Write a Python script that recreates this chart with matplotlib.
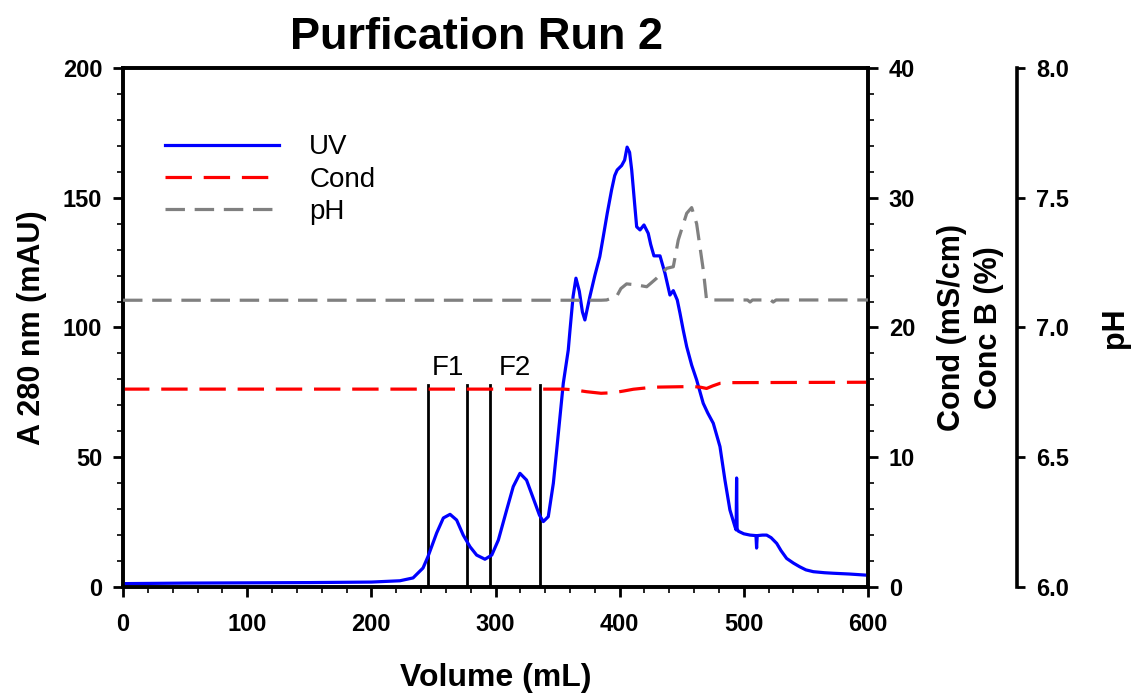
import matplotlib
matplotlib.use("Agg")
import matplotlib.pyplot as plt
from matplotlib.ticker import MultipleLocator, FixedLocator

plt.rcParams['font.family'] = ['Liberation Sans', 'DejaVu Sans']
plt.rcParams['lines.scale_dashes'] = False

# UV absorbance trace (mL, mAU)
uv_volume = [0, 50, 100, 150, 200, 223, 233.6, 241.6, 245.6, 252.6, 258, 263.4, 268.7, 274,
             279.5, 284.8, 291.5, 297, 302.3, 309, 314.3, 319.7, 325, 330.4, 335.4, 338.5,
             342.5, 346.6, 349.3, 354.6, 358.6, 360, 362.5, 364.8, 367.5, 370, 372, 376, 380,
             384, 386.8, 390, 393.5, 396, 398, 401.6, 404, 406, 408, 409.7, 412, 413.7, 416.4,
             419.6, 423, 425, 427.6, 432.5, 436.5, 440.5, 443.2, 446.4, 448.6, 451.2, 454,
             458, 462, 467.3, 471, 475.4, 480.8, 484.8, 488.8, 492.9, 493.8, 494.2, 494.6,
             495.6, 500, 505, 509.8, 510.3, 510.8, 515, 518.4, 522, 526.5, 530, 534.5, 540,
             545, 550, 556, 565, 572, 585, 597.6, 600]
uv_mau = [1.3, 1.5, 1.6, 1.7, 1.9, 2.4, 3.5, 7.3, 11.7, 20.8, 26.6, 28.0, 25.8, 20.0,
          15.5, 12.3, 10.7, 12.3, 18.1, 29.7, 38.7, 43.8, 41.2, 34.2, 27.7, 25.2,
          27.1, 40.0, 52.8, 78.5, 91.3, 99.0, 112.0, 119.0, 114.0, 106.0, 102.9, 111.9, 120.0,
          127.3, 135.0, 144.0, 153.0, 158.5, 160.7, 162.4, 164.5, 169.5, 167.5, 160.7, 148.0, 138.8, 137.6,
          139.5, 136.3, 132.0, 127.6, 127.6, 120.9, 112.5, 114.2, 110.6, 105.5, 99.0, 92.6,
          85.5, 79.8, 70.8, 67.0, 63.1, 54.1, 41.2, 29.7, 23.2, 22.0, 42.0, 22.5,
          21.5, 20.5, 20.0, 19.8, 15.0, 19.8, 20.0, 20.0, 19.0, 16.8, 14.0, 11.0, 9.2,
          7.8, 6.6, 5.9, 5.5, 5.3, 5.0, 4.6, 4.5]

# Conductivity trace (mL, mS/cm)
cond_volume = [0, 200, 355, 362.7, 373.4, 385, 394.7, 403, 411, 427, 459, 465, 470,
               475, 481, 490, 600]
cond_ms = [15.25, 15.25, 15.25, 15.2, 15.05, 14.93, 14.97, 15.1, 15.24, 15.4, 15.45, 15.4,
           15.3, 15.5, 15.7, 15.75, 15.78]

# pH trace (mL, pH units)
ph_volume = [0, 385, 389.5, 397.6, 401, 405.6, 413.7, 421.8, 425, 429.8, 437.9, 443.2,
             447.2, 454, 458, 462, 467.4, 470, 503, 505, 507, 521.5, 523.7, 526, 600]
ph_value = [7.105, 7.105, 7.106, 7.12, 7.15, 7.168, 7.164, 7.157, 7.17, 7.19, 7.228, 7.234,
            7.337, 7.44, 7.462, 7.40, 7.22, 7.106, 7.106, 7.098, 7.106, 7.106, 7.098, 7.106, 7.106]

# Collected fractions (start, end in mL)
fraction_names = ["F1", "F2"]
fraction_bounds = [(245.6, 277.0), (295.6, 335.8)]
fraction_top = 78.0

fig = plt.figure(figsize=(11.34, 6.95), dpi=100)
ax = fig.add_axes([0.1085, 0.1554, 0.6569, 0.7468])

spine_w = 2.6
trace_w = 2.3

ax.plot(uv_volume, uv_mau, color='#0000ff', lw=trace_w, label='UV', zorder=4)

ax.set_xlim(0, 600)
ax.set_ylim(0, 200)
ax.xaxis.set_major_locator(MultipleLocator(100))
ax.xaxis.set_minor_locator(MultipleLocator(20))
ax.yaxis.set_major_locator(MultipleLocator(50))
ax.yaxis.set_minor_locator(MultipleLocator(10))
for s in ax.spines.values():
    s.set_linewidth(spine_w)
ax.tick_params(which='major', direction='out', length=7, width=2, pad=8)
ax.tick_params(which='minor', direction='out', length=4, width=1.2)
ax.tick_params(axis='x', which='major', pad=12)
ax.tick_params(right=False, top=False, which='both')
for lab in ax.get_xticklabels() + ax.get_yticklabels():
    lab.set_fontsize(17)
    lab.set_fontweight('bold')
ax.set_xlabel('Volume (mL)', fontsize=23, fontweight='bold', labelpad=19)
ax.set_ylabel('A 280 nm (mAU)', fontsize=22, fontweight='bold', labelpad=11)
ax.set_title('Purfication Run 2', fontsize=32.5, fontweight='bold', pad=14, x=0.475)

# Fraction markers
for name, (x0, x1) in zip(fraction_names, fraction_bounds):
    ax.plot([x0, x0], [0, fraction_top], color='black', lw=2.0, zorder=3)
    ax.plot([x1, x1], [0, fraction_top], color='black', lw=2.0, zorder=3)
    ax.text((x0 + x1) / 2, fraction_top + 1.5, name, fontsize=20, ha='center', va='bottom')

# Conductivity axis
ax2 = ax.twinx()
ax2.plot(cond_volume, cond_ms, color='#ff0000', lw=trace_w, dashes=(19, 8.5), label='Cond', zorder=2)
ax2.set_ylim(0, 40)
ax2.yaxis.set_major_locator(MultipleLocator(10))
ax2.yaxis.set_minor_locator(MultipleLocator(2))
for s in ax2.spines.values():
    s.set_linewidth(spine_w)
ax2.tick_params(which='major', direction='out', length=7, width=2, pad=8)
ax2.tick_params(which='minor', direction='out', length=4, width=1.2)
for lab in ax2.get_yticklabels():
    lab.set_fontsize(17)
    lab.set_fontweight('bold')
ax2.set_ylabel('Cond (mS/cm)\nConc B (%)', fontsize=22, fontweight='bold', labelpad=16,
               linespacing=1.3)

# pH axis
ax3 = ax.twinx()
ax3.plot(ph_volume, ph_value, color='#808080', lw=trace_w, dashes=(14, 7), label='pH', zorder=1)
ax3.set_ylim(6.0, 8.0)
ax3.yaxis.set_major_locator(FixedLocator([6.0, 6.5, 7.0, 7.5, 8.0]))
ax3.yaxis.set_major_formatter(plt.FormatStrFormatter('%.1f'))
ax3.spines['right'].set_position(('axes', 1.2))
for k in ('top', 'bottom', 'left'):
    ax3.spines[k].set_visible(False)
ax3.spines['right'].set_linewidth(spine_w)
ax3.tick_params(which='major', direction='out', length=6, width=2, pad=8)
for lab in ax3.get_yticklabels():
    lab.set_fontsize(17)
    lab.set_fontweight('bold')
ax3.set_ylabel('pH', fontsize=22, fontweight='bold', labelpad=22)

handles = ax.get_lines()[:1] + ax2.get_lines() + ax3.get_lines()
leg = ax.legend(handles, [h.get_label() for h in handles], loc='upper left',
                bbox_to_anchor=(0.056, 0.872), frameon=False, fontsize=20,
                handlelength=4.1, handletextpad=1.1, labelspacing=0.22,
                borderpad=0, borderaxespad=0)

fig.savefig('out.png', dpi=100)
